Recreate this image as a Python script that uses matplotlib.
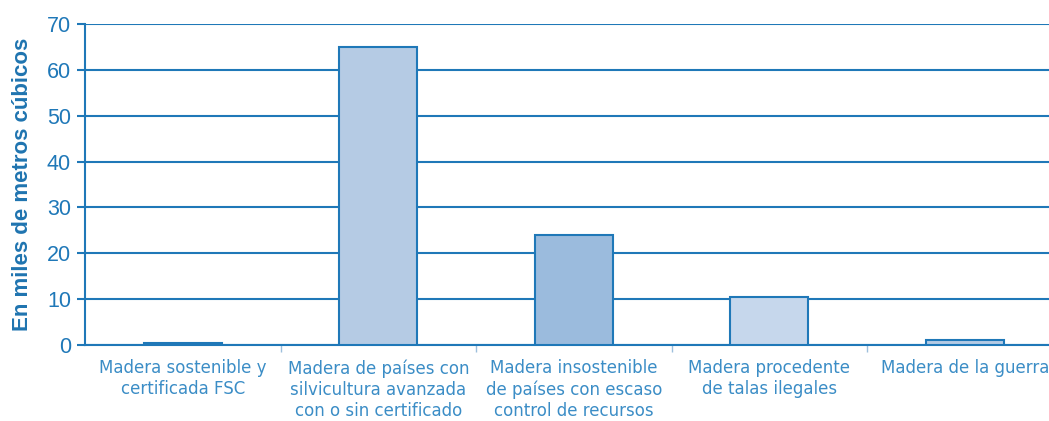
import matplotlib
matplotlib.use("Agg")
import matplotlib.pyplot as plt

plt.rcParams["font.family"] = ["Liberation Sans", "DejaVu Sans"]

categories = ["Madera sostenible y\ncertificada FSC",
              "Madera de países con\nsilvicultura avanzada\ncon o sin certificado",
              "Madera insostenible\nde países con escaso\ncontrol de recursos",
              "Madera procedente\nde talas ilegales",
              "Madera de la guerra"]
values = [0.5, 65, 24, 10.5, 1]
bar_colors = ["#b5cbe4", "#b5cbe4", "#9bbbdd", "#c6d7ec", "#b5cbe4"]
yticks = [0, 10, 20, 30, 40, 50, 60, 70]

edge = "#1f78b8"
text_c = "#3b8dc6"

fig = plt.figure(figsize=(10.49, 4.21), dpi=100)
ax = fig.add_axes([85/1049, 1-345/421, 1-85/1049, (345-24)/421])

x = list(range(len(categories)))
ax.bar(x, values, width=0.4, color=bar_colors, edgecolor=edge, linewidth=1.5, zorder=3)

ax.set_ylim(0, 70)
ax.set_xlim(-0.5, 4.43)
ax.set_yticks(yticks)
ax.set_yticklabels([str(v) for v in yticks], fontsize=15.5, color=edge)
ax.grid(axis="y", color=edge, linewidth=1.5, zorder=1)
ax.tick_params(axis="y", length=6, width=1.5, color=edge, pad=4)

ax.set_xticks([0.5, 1.5, 2.5, 3.5])
ax.set_xticklabels([])
ax.tick_params(axis="x", length=5, width=1, color="#9dbfdc")
for xi, lab in zip(x, categories):
    ax.text(xi, -3.1, lab, ha="center", va="top", fontsize=12, color=text_c,
            family="DejaVu Sans", linespacing=1.22, clip_on=False)

for s in ["top", "right"]:
    ax.spines[s].set_visible(False)
ax.spines["left"].set_color(edge)
ax.spines["left"].set_linewidth(1.5)
ax.spines["bottom"].set_color(edge)
ax.spines["bottom"].set_linewidth(1.5)

fig.text(23/1049, 1-184/421, "En miles de metros cúbicos", rotation=90, ha="center",
         va="center", fontsize=16, fontweight="bold", color="#1f74b0")

fig.savefig("out.png", dpi=100)
